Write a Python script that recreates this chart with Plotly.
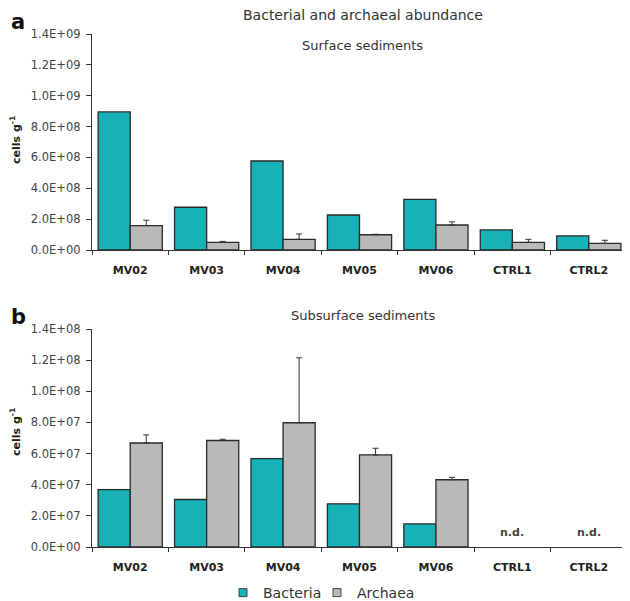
import plotly.graph_objects as go

categories = ["MV02", "MV03", "MV04", "MV05", "MV06", "CTRL1", "CTRL2"]

surf_bacteria = [8.95e8, 2.77e8, 5.77e8, 2.27e8, 3.28e8, 1.30e8, 0.91e8]
surf_archaea = [1.58e8, 5.0e7, 6.9e7, 9.9e7, 1.62e8, 5.0e7, 4.3e7]
surf_archaea_err = [3.5e7, 6e6, 3.5e7, 3e6, 2.0e7, 1.9e7, 2.0e7]

sub_bacteria = [3.68e7, 3.05e7, 5.68e7, 2.77e7, 1.48e7, None, None]
sub_archaea = [6.68e7, 6.84e7, 7.98e7, 5.91e7, 4.32e7, None, None]
sub_archaea_err = [5.2e6, 8e5, 4.17e7, 4.3e6, 1.5e6, 0, 0]

surf_ticks = [0, 2e8, 4e8, 6e8, 8e8, 1.0e9, 1.2e9, 1.4e9]
surf_ticktext = ["0.0E+00", "2.0E+08", "4.0E+08", "6.0E+08", "8.0E+08", "1.0E+09", "1.2E+09", "1.4E+09"]
sub_ticks = [0, 2e7, 4e7, 6e7, 8e7, 1.0e8, 1.2e8, 1.4e8]
sub_ticktext = ["0.0E+00", "2.0E+07", "4.0E+07", "6.0E+07", "8.0E+07", "1.0E+08", "1.2E+08", "1.4E+08"]

nd_categories = ["CTRL1", "CTRL2"]
nd_level = 9e6

TEAL = "#16B2B6"
GRAY = "#B9B9B9"
EDGE = "#2a2a2a"
FONT = "DejaVu Sans"

# page has an 8px body margin: figure sized to fit the window, positions given in window pixels
OFF = 8
W, H = 630 - OFF, 601 - OFF

def fx(px):
    return (px - OFF) / W

def fy(py):
    return 1 - (py - OFF) / H

fig = go.Figure()

def add_pair(b, a, err, xa, ya):
    fig.add_trace(go.Bar(x=categories, y=b, name="Bacteria", marker=dict(color=TEAL, line=dict(color=EDGE, width=1.3)),
                         xaxis=xa, yaxis=ya, showlegend=False))
    fig.add_trace(go.Bar(x=categories, y=a, name="Archaea", marker=dict(color=GRAY, line=dict(color=EDGE, width=1.3)),
                         error_y=dict(type="data", array=err, arrayminus=[0]*len(err), symmetric=False,
                                      color="#333", thickness=1, width=3),
                         xaxis=xa, yaxis=ya, showlegend=False))

add_pair(surf_bacteria, surf_archaea, surf_archaea_err, "x", "y")
add_pair(sub_bacteria, sub_archaea, sub_archaea_err, "x2", "y2")

# legend entries (small square swatches), one legend each for precise placement
for nm, col, lg in [("Bacteria", TEAL, "legend"), ("Archaea", GRAY, "legend2")]:
    fig.add_trace(go.Scatter(x=[None], y=[None], mode="markers", name=nm, xaxis="x2", yaxis="y2", legend=lg,
                             marker=dict(symbol="square", size=8, color=col, line=dict(color="#444", width=1))))

xdom = [fx(92), min(1.0, fx(627))]
ax_common = dict(type="category", showline=True, linecolor="#333", linewidth=1.2, ticks="outside",
                 tickson="boundaries", ticklen=4, tickcolor="#333", showgrid=False,
                 tickfont=dict(family=FONT, size=11, color="#222", weight="bold"), ticklabelstandoff=10,
                 domain=xdom, fixedrange=True)
y_common = dict(showline=True, linecolor="#333", linewidth=1.2, ticks="outside", ticklen=5, tickcolor="#333",
                showgrid=False, zeroline=False, tickfont=dict(family=FONT, size=11.5, color="#444"),
                ticklabelstandoff=3)

legend_common = dict(orientation="h", xanchor="left", y=fy(593), yanchor="middle",
                     font=dict(family=FONT, size=14, color="#333"), bgcolor="rgba(0,0,0,0)")

fig.update_layout(
    width=W, height=H, margin=dict(l=0, r=0, t=0, b=0, autoexpand=False),
    paper_bgcolor="white", plot_bgcolor="white",
    barmode="group", bargap=0.16, bargroupgap=0.0,
    xaxis=dict(anchor="y", **ax_common),
    xaxis2=dict(anchor="y2", **ax_common),
    yaxis=dict(domain=[fy(250), fy(34)], range=[0, 1.4e9], tickvals=surf_ticks, ticktext=surf_ticktext, anchor="x", **y_common),
    yaxis2=dict(domain=[fy(547), fy(329)], range=[0, 1.4e8], tickvals=sub_ticks, ticktext=sub_ticktext, anchor="x2", **y_common),
    legend=dict(x=fx(223), **legend_common),
    legend2=dict(x=fx(317), **legend_common),
    font=dict(family=FONT),
)

ann = [
    dict(text="a", x=fx(18), y=1.0, yanchor="top", font=dict(size=21, weight="bold", color="#111")),
    dict(text="b", x=fx(18), y=fy(317), font=dict(size=21, weight="bold", color="#111")),
    dict(text="Bacterial and archaeal abundance", x=fx(363), y=fy(15), font=dict(size=14, color="#333")),
    dict(text="Surface sediments", x=fx(362), y=fy(45), font=dict(size=13, color="#333")),
    dict(text="Subsurface sediments", x=fx(363), y=fy(315), font=dict(size=13, color="#333")),
    dict(text="cells g<sup>-1</sup>", x=fx(15), y=fy(140), textangle=-90, font=dict(size=11, weight="bold", color="#222")),
    dict(text="cells g<sup>-1</sup>", x=fx(15), y=fy(432), textangle=-90, font=dict(size=11, weight="bold", color="#222")),
]
for a in ann:
    a.setdefault("yanchor", "middle")
    a.update(xref="paper", yref="paper", showarrow=False, xanchor="center")
    a["font"].setdefault("family", FONT)
    fig.add_annotation(**a)

for c in nd_categories:
    fig.add_annotation(text="n.d.", x=c, y=nd_level, xref="x2", yref="y2", showarrow=False,
                       font=dict(family=FONT, size=11, color="#444", weight="bold"))

fig.write_html("out.html")
